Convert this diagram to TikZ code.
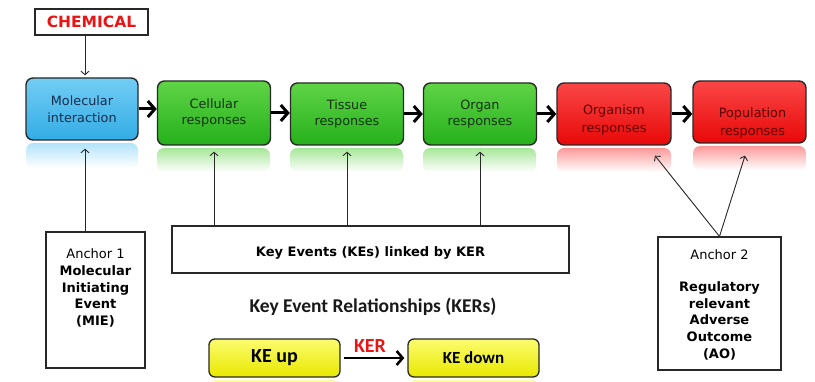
\documentclass[tikz,border=0pt]{standalone}
\usepackage{fontspec}
\setmainfont{DejaVu Sans}
\newfontfamily\calfont{Carlito}
\usetikzlibrary{arrows.meta,calc}
\definecolor{blueB}{RGB}{50,172,228}
\definecolor{blueT}{RGB}{115,205,245}
\definecolor{greenB}{RGB}{38,176,28}
\definecolor{greenT}{RGB}{95,212,70}
\definecolor{redB}{RGB}{232,8,8}
\definecolor{redT}{RGB}{250,70,70}
\definecolor{yelB}{RGB}{232,232,0}
\definecolor{yelT}{RGB}{252,252,110}
\definecolor{edge}{RGB}{40,40,40}
\definecolor{chemred}{RGB}{235,20,20}
\tikzset{
  proc/.style={draw=edge, line width=1.4pt, rounded corners=7pt, align=center,
    minimum width=113pt, minimum height=63pt, inner sep=0pt,
    font=\fontsize{12.8}{16.5}\selectfont},
  proctext/.style={align=center, inner sep=0pt, font=\fontsize{12.8}{17.5}\selectfont,
    text={rgb,255:red,90;green,0;blue,0}},
  refl/.style={rounded corners=7pt},
  bigarrow/.style={line width=3pt, -{Straight Barb[length=7pt,width=16pt]}},
  thinarrow/.style={line width=0.9pt, edge, -{Straight Barb[length=3.5pt,width=8pt]}},
  plainbox/.style={draw=edge, line width=1.1pt, fill=white},
  anchortxt/.style={align=center, inner sep=0pt, font=\fontsize{13}{16.8}\selectfont},
  kebox/.style={draw=edge, line width=1.3pt, rounded corners=6pt, top color=yelT, bottom color=yelB,
    minimum width=131pt, minimum height=38pt, inner sep=0pt}
}
\begin{document}
\begin{tikzpicture}[x=1pt,y=-1pt]
\useasboundingbox[fill=white] (0,0) rectangle (815,382);

% reflections
\shade[refl, top color=blueT!55, bottom color=white] (26,143) rectangle (138,168);
\shade[refl, top color=greenT!55, bottom color=white] (157,148) rectangle (270,172);
\shade[refl, top color=greenT!55, bottom color=white] (290,148) rectangle (403,172);
\shade[refl, top color=greenT!55, bottom color=white] (423,148) rectangle (536,172);
\shade[refl, top color=redT!55, bottom color=white] (557,148) rectangle (671,172);
\shade[refl, top color=redT!55, bottom color=white] (693,146) rectangle (806,170);
\shade[refl, top color=yelT!60, bottom color=white] (209,380) rectangle (340,395);
\shade[refl, top color=yelT!60, bottom color=white] (408,380) rectangle (539,395);

% main chain
\node[proc, top color=blueT, bottom color=blueB, text={rgb,255:red,20;green,45;blue,80},
  minimum width=112pt, minimum height=62pt] (m) at (82,109) {Molecular\\interaction};
\node[proc, top color=greenT, bottom color=greenB, text={rgb,255:red,20;green,50;blue,20},
  minimum height=64pt] (c) at (214,113) {Cellular\\responses};
\node[proc, top color=greenT, bottom color=greenB, text={rgb,255:red,20;green,50;blue,20},
  minimum height=62pt] (t) at (347,114) {Tissue\\responses};
\node[proc, top color=greenT, bottom color=greenB, text={rgb,255:red,20;green,50;blue,20},
  minimum height=62pt] (o) at (480,114) {Organ\\responses};
\node[proc, top color=redT, bottom color=redB,
  minimum width=114pt, minimum height=62pt] (g) at (614,114) {};
\node[proctext] (gt) at ($(g)+(0,6)$) {Organism\\responses};
\node[proc, top color=redT, bottom color=redB,
  minimum height=62pt] (p) at (749.5,112) {};
\node[proctext] (pt) at ($(p)+(3,11)$) {Population\\responses};

\draw[bigarrow] (m.east) -- (m.east -| c.west);
\draw[bigarrow] (c.east) -- (c.east -| t.west);
\draw[bigarrow] (t.east) -- (t.east -| o.west);
\draw[bigarrow] (o.east) -- (o.east -| g.west);
\draw[bigarrow] (g.east) -- (g.east -| p.west);

% chemical
\node[plainbox, minimum width=113pt, minimum height=26pt, inner sep=0pt,
  text=chemred, font=\bfseries\fontsize{15.5}{17}\selectfont] (chem) at (91.5,22) {CHEMICAL};
\coordinate (mx) at (85,0);
\draw[thinarrow] (chem.south -| mx) -- ($(m.north -| mx)+(0,-2)$);

% anchor 1
\node[plainbox, minimum width=99pt, minimum height=136pt] (a1) at (95.5,300) {};
\node[anchortxt, anchor=north] (a1t) at ($(a1.north)+(0,17)$)
  {Anchor 1\\\textbf{Molecular}\\\textbf{Initiating}\\\textbf{Event}\\\textbf{(MIE)}};
\draw[thinarrow] (a1.north -| mx) -- ($(m.south -| mx)+(0,8)$);

% key events box
\node[plainbox, minimum width=397pt, minimum height=47pt, inner sep=0pt] (ke) at (370.5,249.5) {};
\node[font=\bfseries\fontsize{13}{15}\selectfont, inner sep=0pt] (ket) at (370.5,253) {Key Events (KEs) linked by KER};
\draw[thinarrow] (ke.north -| c.south) -- ($(c.south)+(0,6)$);
\draw[thinarrow] (ke.north -| t.south) -- ($(t.south)+(0,6)$);
\draw[thinarrow] (ke.north -| o.south) -- ($(o.south)+(0,6)$);

% anchor 2
\node[plainbox, minimum width=123pt, minimum height=133pt] (a2) at (719.5,303.5) {};
\node[anchortxt, anchor=north] (a2t) at ($(a2.north)+(0,13)$)
  {Anchor 2\\[15pt]\textbf{Regulatory}\\\textbf{relevant}\\\textbf{Adverse}\\\textbf{Outcome}\\\textbf{(AO)}};
\draw[thinarrow] (a2.north) -- ($(g.south)+(41,10)$);
\draw[thinarrow] (a2.north) -- ($(p.south)+(-4.5,12)$);

% KER legend
\node[font=\calfont\bfseries\fontsize{19.5}{21}\selectfont, text={rgb,255:red,25;green,25;blue,25}, inner sep=0pt]
  (title) at (373,307) {Key Event Relationships (KERs)};
\node[kebox, font=\calfont\bfseries\fontsize{20}{21}\selectfont] (ku) at (274.5,358) {KE up};
\node[kebox, font=\calfont\bfseries\fontsize{17}{18}\selectfont] (kd) at (473.5,358) {KE down};
\draw[line width=2.6pt, -{Straight Barb[length=6pt,width=14pt]}] ($(ku.east)+(3,0)$) -- ($(kd.west)+(-3,0)$);
\node[font=\calfont\bfseries\fontsize{20}{21}\selectfont, text=chemred, inner sep=0pt] (kerl) at (370,346) {KER};
\end{tikzpicture}
\end{document}
